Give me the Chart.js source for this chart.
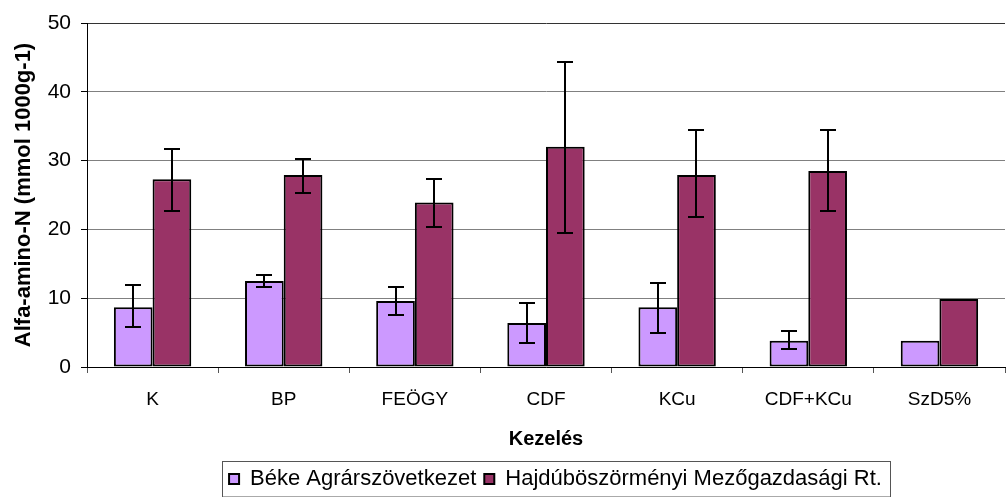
<!DOCTYPE html>
<html><head><meta charset="utf-8">
<script src="https://cdn.jsdelivr.net/npm/chart.js@4/dist/chart.umd.min.js"></script>
<style>html,body{margin:0;padding:0;background:#fff;} #wrap{width:1006px;height:497px;position:relative;}</style>
</head><body><div id="wrap"><canvas id="c" width="1006" height="497"></canvas></div>
<script>
const categories = ['K', 'BP', 'FEÖGY', 'CDF', 'KCu', 'CDF+KCu', 'SzD5%'];
const seriesNames = ['Béke Agrárszövetkezet', 'Hajdúböszörményi Mezőgazdasági Rt.'];
const bekeValues   = [8.7, 12.5, 9.6, 6.4, 8.7, 3.8, 3.8];
const bekeErrHigh  = [11.9, 13.3, 11.6, 9.3, 12.2, 5.2, null];
const bekeErrLow   = [5.8, 11.6, 7.6, 3.5, 4.9, 2.6, null];
const hajduValues  = [27.3, 27.9, 23.9, 32.0, 27.9, 28.5, 9.9];
const hajduErrHigh = [31.7, 30.2, 27.3, 44.3, 34.4, 34.4, null];
const hajduErrLow  = [22.7, 25.3, 20.3, 19.5, 21.8, 22.7, null];
const yMin = 0, yMax = 50, yStep = 10;
const xTitle = 'Kezelés';
const yTitle = 'Alfa-amino-N (mmol 1000g-1)';

const FONT = "'Liberation Sans', Arial, sans-serif";
const LEGEND_SHIFT_X = 53;
const LEGEND_SHIFT_Y = 3;

const errorBarPlugin = {
  id: 'errorBars',
  afterDatasetsDraw(chart) {
    const ctx = chart.ctx, y = chart.scales.y;
    chart.data.datasets.forEach((ds, di) => {
      const meta = chart.getDatasetMeta(di);
      meta.data.forEach((bar, i) => {
        const hi = ds.errHigh[i], lo = ds.errLow[i];
        if (hi == null || lo == null) return;
        const x = Math.round(bar.x);
        const yh = Math.round(y.getPixelForValue(hi)), yl = Math.round(y.getPixelForValue(lo));
        ctx.save();
        ctx.strokeStyle = '#000'; ctx.lineWidth = 2;
        ctx.beginPath();
        ctx.moveTo(x, yh); ctx.lineTo(x, yl);
        ctx.moveTo(x - 8, yh); ctx.lineTo(x + 8, yh);
        ctx.moveTo(x - 8, yl); ctx.lineTo(x + 8, yl);
        ctx.stroke();
        ctx.restore();
      });
    });
  }
};

const legendFrame = {
  id: 'legendFrame',
  afterLayout(chart) {
    const lg = chart.legend;
    lg.left += LEGEND_SHIFT_X; lg.right += LEGEND_SHIFT_X;
    lg.top += LEGEND_SHIFT_Y; lg.bottom += LEGEND_SHIFT_Y;
  },
  afterDraw(chart) {
    const hb = chart.legend.legendHitBoxes;
    if (!hb || !hb.length) return;
    const l = Math.min(...hb.map(h => h.left)) - 7;
    const r = Math.max(...hb.map(h => h.left + h.width)) + 8;
    const cy = hb[0].top + hb[0].height / 2;
    const t = cy - 18;
    const b = 496.5;
    const ctx = chart.ctx;
    ctx.save();
    ctx.strokeStyle = '#555'; ctx.lineWidth = 1;
    ctx.strokeRect(Math.round(l) + 0.5, Math.round(t) + 0.5, Math.round(r - l), Math.round(b - t) - 0.5);
    ctx.restore();
  }
};

new Chart(document.getElementById('c'), {
  type: 'bar',
  data: {
    labels: categories,
    datasets: [
      { label: seriesNames[0], data: bekeValues, errHigh: bekeErrHigh, errLow: bekeErrLow,
        backgroundColor: '#CC99FF', borderColor: '#000', borderWidth: 2, borderSkipped: false },
      { label: seriesNames[1], data: hajduValues, errHigh: hajduErrHigh, errLow: hajduErrLow,
        backgroundColor: '#993366', borderColor: '#000', borderWidth: 2, borderSkipped: false }
    ]
  },
  options: {
    responsive: false,
    animation: false,
    devicePixelRatio: 1,
    layout: { padding: { top: 23, right: 1, bottom: 0, left: 0 } },
    datasets: { bar: { barPercentage: 1, categoryPercentage: 0.59 } },
    plugins: {
      tooltip: { enabled: false },
      legend: {
        position: 'bottom',
        labels: {
          boxWidth: 10, boxHeight: 10, padding: 8, color: '#000',
          font: { family: FONT, size: 22 }
        }
      }
    },
    scales: {
      x: {
        offset: true,
        grid: { offset: true, drawOnChartArea: false, tickLength: 6, tickColor: '#555', lineWidth: 1 },
        border: { color: '#000', width: 1 },
        ticks: { color: '#000', padding: 15, font: { family: FONT, size: 19 }, maxRotation: 0 },
        title: { display: true, text: xTitle, color: '#000', font: { family: FONT, size: 20, weight: 'bold' }, padding: { top: 0, bottom: 6 } },
        afterFit(scale) { scale.height = 90; }
      },
      y: {
        min: yMin, max: yMax,
        grid: { color: (c) => (c.tick && c.tick.value === yMax ? '#333' : '#808080'), tickLength: 6, tickColor: '#000', lineWidth: 1 },
        border: { color: '#000', width: 1 },
        ticks: { stepSize: yStep, color: '#000', padding: 10, font: { family: FONT, size: 21 } },
        title: { display: true, text: yTitle, color: '#000', font: { family: FONT, size: 22, weight: 'bold' }, padding: { top: 11, bottom: 0 } },
        afterFit(scale) { scale.width = 87; }
      }
    }
  },
  plugins: [errorBarPlugin, legendFrame]
});
</script>
</body></html>
